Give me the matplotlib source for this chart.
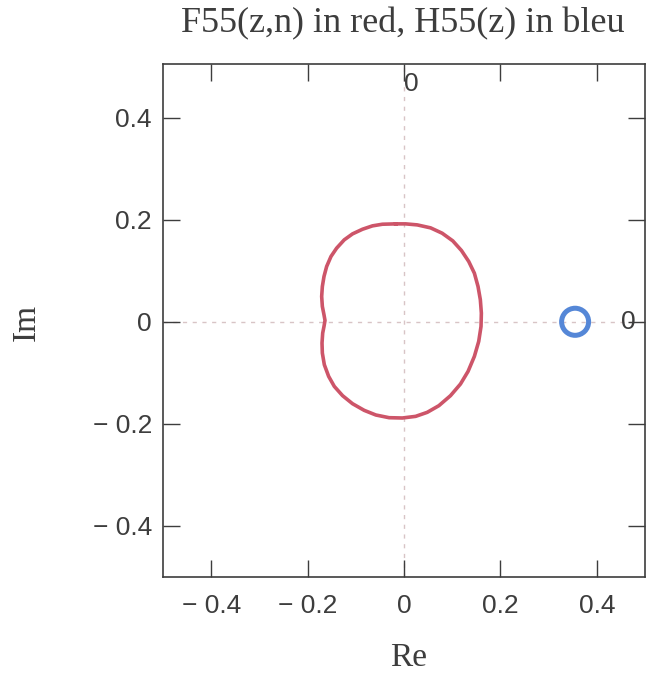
import matplotlib.pyplot as plt
from matplotlib.patches import Ellipse
from matplotlib.ticker import FixedLocator, FixedFormatter

# F55(z,n) contour (Re, Im), closed loop
f55_re = [-0.0172, -0.0448, -0.0654, -0.0861, -0.1068, -0.1240, -0.1398, -0.1515,
          -0.1605, -0.1660, -0.1694, -0.1708, -0.1694, -0.1660, -0.1639, -0.1660,
          -0.1687, -0.1701, -0.1694, -0.1653, -0.1563, -0.1446, -0.1274, -0.1068,
          -0.0826, -0.0585, -0.0310, -0.0034, 0.0241, 0.0482, 0.0723, 0.0964,
          0.1171, 0.1329, 0.1460, 0.1550, 0.1598, 0.1605, 0.1584, 0.1536,
          0.1460, 0.1343, 0.1192, 0.1012, 0.0792, 0.0551, 0.0275, 0.0034, -0.0172]
f55_im = [0.1918, 0.1911, 0.1879, 0.1813, 0.1722, 0.1605, 0.1442, 0.1279,
          0.1083, 0.0887, 0.0691, 0.0496, 0.0300, 0.0137, 0.0026, -0.0091,
          -0.0222, -0.0417, -0.0613, -0.0841, -0.1070, -0.1266, -0.1448, -0.1605,
          -0.1735, -0.1826, -0.1879, -0.1885, -0.1853, -0.1774, -0.1644, -0.1448,
          -0.1220, -0.0972, -0.0678, -0.0385, -0.0091, 0.0170, 0.0431, 0.0691,
          0.0952, 0.1181, 0.1396, 0.1585, 0.1735, 0.1840, 0.1898, 0.1918, 0.1918]

# H55(z): small loop around its centre
h55_center = (0.355, 0.0)
h55_radius = 0.028

ticks = [-0.4, -0.2, 0.0, 0.2, 0.4]
tick_labels = ["\u2212 0.4", "\u2212 0.2", "0", "0.2", "0.4"]

RED = "#cd5569"
BLUE = "#5587d7"
INK = "#3d3d3d"

plt.rcParams["font.family"] = ["Liberation Sans", "DejaVu Sans"]

fig = plt.figure(figsize=(6.53, 6.75), dpi=100)
ax = fig.add_axes([163 / 653, 1 - 577 / 675, 482 / 653, 513 / 675])

ax.axhline(0, color="#d8c4c6", linewidth=1.0, linestyle=(0, (3, 4)), zorder=0)
ax.axvline(0, color="#d8c4c6", linewidth=1.0, linestyle=(0, (3, 4)), zorder=0)

ax.plot(f55_re, f55_im, color=RED, linewidth=2.6, solid_joinstyle="round")

ax.add_patch(Ellipse(h55_center, 2 * h55_radius, 2 * h55_radius * 484 / 511,
                     fill=False, edgecolor=BLUE, linewidth=3.6))

ax.text(0.001, 0.466, "0", fontsize=19, color=INK, ha="left", va="center")
ax.text(0.466, 0.0, "0", fontsize=19, color=INK, ha="center", va="center")

ax.set_xlim(-0.5, 0.5)
ax.set_ylim(-0.5, 0.505)

for axis in (ax.xaxis, ax.yaxis):
    axis.set_major_locator(FixedLocator(ticks))
    axis.set_major_formatter(FixedFormatter(tick_labels))
ax.tick_params(direction="in", length=12, width=1.0, color=INK, labelcolor=INK,
               labelsize=19, top=True, right=True)
ax.tick_params(axis="x", pad=12)
ax.tick_params(axis="y", pad=8)
for s in ax.spines.values():
    s.set_color(INK)
    s.set_linewidth(1.2)

serif = ["Liberation Serif", "DejaVu Serif"]
fig.text(403 / 653, 1 - 24 / 675, "F55(z,n) in red, H55(z) in bleu", family=serif,
         fontsize=26, color=INK, ha="center", va="center")
fig.text(409 / 653, 1 - 658 / 675, "Re", family=serif, fontsize=24, color=INK,
         ha="center", va="center")
fig.text(27 / 653, 1 - 322 / 675, "Im", family=serif, fontsize=24, color=INK,
         ha="center", va="center", rotation=90)

fig.savefig("out.png", dpi=100)
